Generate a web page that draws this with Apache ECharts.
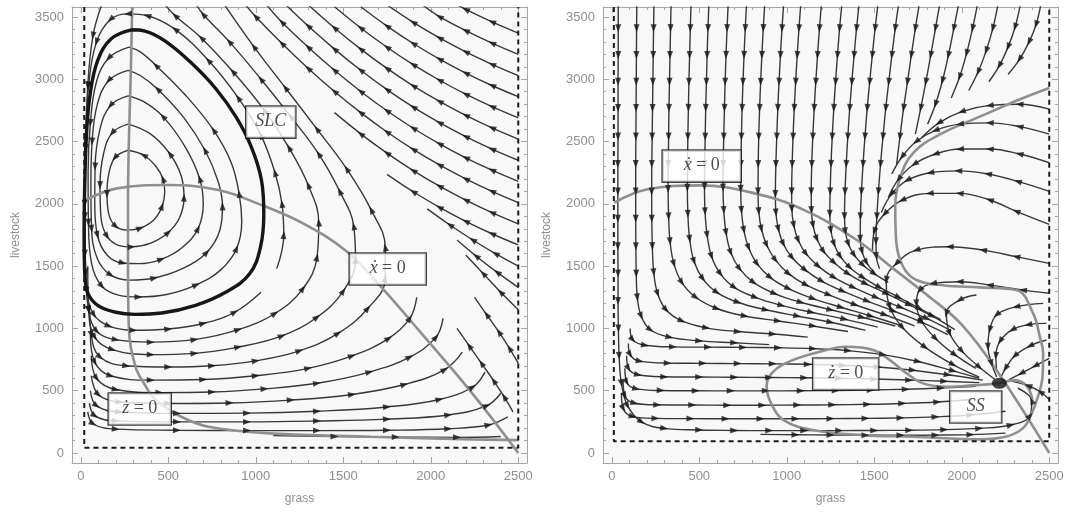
<!DOCTYPE html>
<html>
<head>
<meta charset="utf-8">
<script src="https://cdn.jsdelivr.net/npm/echarts@6/dist/echarts.min.js"></script>
<style>
  html, body { margin: 0; padding: 0; background: #fff; }
  #chart { width: 1068px; height: 512px; }
</style>
</head>
<body>
<div id="chart"></div>
<script>
// ---- left panel (limit cycle) ----
const leftBound = [[20, 3580], [20, 42], [2500, 42], [2500, 3580]];
const leftXNull = [[15,2020],[207,2124],[497,2151],[787,2111],[1019,1998],[1270,1843],[1522,1616],[1715,1335],[1947,960],[2237,479],[2500,0]];
const leftZNull = [[294,3580],[285,3000],[275,2500],[270,2000],[270,1500],[275,1000],[313,693],[361,559],[429,425],[574,291],[730,211],[1077,158],[1657,131],[2238,110],[2500,104]];
const leftSLC = [[290,3397],[174,3325],[97,3151],[54,2884],[33,2563],[23,2161],[19,1760],[23,1439],[42,1279],[97,1185],[193,1132],[309,1113],[463,1124],[656,1185],[830,1292],[965,1439],[1027,1653],[1046,1921],[1033,2188],[975,2456],[888,2696],[772,2924],[637,3124],[483,3306],[367,3387],[290,3397]];
const leftOrbits = [
  [[270,2430],[195,2370],[160,2240],[150,2080],[160,1920],[200,1820],[265,1790],[340,1805],[420,1875],[465,1980],[480,2100],[470,2200],[430,2300],[360,2390],[270,2430]],
  [[270,2640],[180,2570],[130,2400],[110,2150],[115,1900],[150,1740],[220,1665],[290,1655],[400,1685],[500,1770],[565,1890],[590,2050],[575,2220],[510,2400],[400,2560],[270,2640]],
  [[270,2867],[170,2790],[110,2600],[82,2300],[80,2000],[95,1750],[150,1590],[240,1525],[330,1520],[460,1555],[580,1650],[670,1800],[700,2000],[680,2200],[600,2450],[470,2700],[360,2820],[270,2867]],
  [[270,3071],[160,2990],[95,2800],[65,2500],[58,2150],[62,1800],[95,1560],[170,1430],[280,1388],[420,1405],[580,1480],[720,1610],[795,1790],[810,1980],[785,2180],[710,2430],[590,2690],[440,2920],[340,3030],[270,3071]],
  [[275,3258],[160,3170],[90,2980],[55,2650],[42,2250],[44,1850],[62,1520],[120,1340],[220,1265],[330,1252],[490,1272],[660,1350],[800,1470],[890,1640],[920,1860],[905,2080],[860,2330],[760,2590],[600,2870],[430,3110],[340,3220],[275,3258]]
];
const leftStreams = [
  [[1120,1480],[1160,1750],[1150,2000],[1110,2250],[1030,2550],[900,2850],[730,3150],[540,3400],[380,3510],[270,3525],[170,3480],[90,3300],[45,2950],[28,2500],[22,2000],[24,1600],[35,1300],[75,1110],[160,1020],[300,985],[500,995],[700,1040],[880,1130],[1030,1290]],
  [[120,3600],[70,3350],[40,2950],[28,2450],[24,1900],[28,1450],[45,1150],[90,980],[200,910],[400,890],[650,910],[900,990],[1110,1120],[1270,1320],[1350,1570],[1360,1850],[1300,2150],[1190,2450],[1050,2750],[870,3060],[690,3330],[540,3510],[480,3600]],
  [[40,1500],[45,1150],[80,930],[180,830],[400,790],[650,800],[900,850],[1150,940],[1350,1090],[1500,1300],[1570,1550],[1560,1820],[1480,2100],[1360,2400],[1200,2700],[1030,3000],[850,3300],[700,3520],[660,3600]],
  [[50,1200],[60,950],[110,770],[260,700],[500,690],[750,700],[1000,740],[1250,820],[1470,960],[1640,1160],[1740,1400],[1740,1650],[1660,1950],[1520,2280],[1350,2600],[1170,2930],[990,3260],[820,3600]],
  [[55,950],[80,730],[170,620],[400,585],[700,590],[1000,620],[1300,680],[1550,780],[1760,920],[1880,1080],[1920,1250]],
  [[60,780],[90,600],[200,510],[450,485],[750,490],[1050,515],[1350,560],[1650,650],[1880,770],[2030,930],[2070,1080]],
  [[60,620],[100,470],[220,410],[500,398],[850,402],[1200,425],[1550,470],[1850,550],[2080,670],[2180,810]],
  [[55,500],[90,380],[220,330],[550,318],[950,320],[1350,335],[1750,370],[2050,430],[2240,530],[2310,650]],
  [[50,400],[80,300],[200,258],[550,250],[950,250],[1350,257],[1750,272],[2100,305],[2320,380],[2400,480]],
  [[40,330],[70,235],[200,192],[550,183],[950,180],[1350,180],[1750,183],[2100,195],[2330,225],[2440,290]],
  [[1100,140],[1450,133],[1800,128],[2150,126],[2400,133]],
  [[2470,330],[2420,450],[2360,580],[2290,720],[2220,860],[2150,1000]],
  [[2500,720],[2450,840],[2390,970],[2320,1110],[2250,1250]],
  [[2500,3370],[2350,3460],[2200,3560],[2150,3600]],
  [[2500,3200],[2350,3290],[2200,3390],[2050,3502],[1950,3600]],
  [[2500,3030],[2350,3120],[2200,3220],[2050,3332],[1900,3457],[1750,3597]],
  [[2500,2860],[2350,2950],[2200,3050],[2050,3162],[1900,3287],[1750,3427],[1600,3582]],
  [[2500,2690],[2350,2780],[2200,2880],[2050,2992],[1900,3117],[1750,3257],[1600,3412],[1450,3582]],
  [[2500,2520],[2350,2610],[2200,2710],[2050,2822],[1900,2947],[1750,3087],[1600,3242],[1450,3412],[1300,3597]],
  [[2500,2350],[2350,2440],[2200,2540],[2050,2652],[1900,2777],[1750,2917],[1600,3072],[1450,3242],[1300,3427],[1170,3600]],
  [[2500,2180],[2350,2270],[2200,2370],[2050,2482],[1900,2607],[1750,2747],[1600,2902],[1450,3072],[1300,3257],[1150,3457],[1060,3600]],
  [[2500,2010],[2350,2100],[2200,2200],[2050,2312],[1900,2437],[1750,2577],[1600,2732],[1450,2902],[1300,3087],[1150,3287],[1000,3502],[940,3600]],
  [[2500,1840],[2350,1930],[2200,2030],[2050,2142],[1900,2267],[1750,2407],[1600,2562],[1450,2732]],
  [[2500,1670],[2350,1760],[2200,1860],[2050,1972],[1900,2097],[1750,2237]],
  [[2500,1500],[2370,1600],[2240,1710],[2110,1830],[1980,1960]],
  [[2500,1330],[2380,1450],[2260,1580],[2150,1710]],
  [[2500,1150],[2400,1290],[2300,1440],[2200,1590]]
];
const leftLabels = [['SLC', 1086, 2656, 33], ['xdot', 1754, 1477, 60], ['zdot', 337, 353, 46]];

// ---- right panel (steady state) ----
const rightBound = [[12, 3580], [12, 95], [2500, 95], [2500, 3580]];
const rightXNull = [[15,2010],[200,2115],[500,2148],[800,2090],[1100,1950],[1400,1710],[1600,1490],[1800,1270],[2000,1030],[2220,620],[2500,0]];
const rightZNull = [[2500,2930],[2316,2830],[2120,2710],[1884,2563],[1727,2415],[1649,2215],[1620,1974],[1625,1707],[1665,1495],[1741,1389],[1900,1345],[2100,1330],[2312,1308],[2408,1121],[2446,934],[2465,800],[2462,620],[2435,450],[2400,320],[2350,200],[2250,130],[2103,110],[1722,131],[1436,144],[1150,185],[985,262],[910,400],[885,540],[920,650],[1024,740],[1189,813],[1341,853],[1493,827],[1589,746],[1684,640],[1779,559],[1913,532],[2080,545],[2208,559],[2300,585],[2370,540],[2404,430]];
const rightSS = [2215, 560];
const rightStreams = [
  [[37,3600],[37,3410],[37,3195],[36,2980],[36,2770],[36,2540],[35,2320],[35,2100],[35,1880],[35,1660],[36,1440],[36,1220],[38,1000],[42,780],[55,560],[90,380],[170,250],[300,198],[500,185],[700,181],[900,180],[1100,180],[1300,180],[1500,181],[1700,183],[1900,188],[2100,198],[2280,225],[2390,300],[2400,420],[2320,520]],
  [[143,3600],[142,3410],[141,3195],[140,2980],[139,2770],[138,2540],[137,2320],[137,2100],[137,1880],[138,1660],[140,1440],[146,1250],[168,1100],[220,990],[330,930],[500,900],[700,885],[900,870]],
  [[241,3600],[239,3410],[237,3195],[235,2980],[233,2770],[231,2540],[229,2320],[228,2100],[229,1880],[232,1660],[240,1450],[262,1280],[310,1150],[400,1060],[540,1005],[720,975],[920,955],[1120,930]],
  [[339,3600],[336,3410],[333,3195],[330,2980],[327,2770],[325,2540],[323,2320],[322,2120],[325,1900],[333,1700],[355,1520],[400,1370],[480,1250],[600,1160],[760,1100],[950,1060],[1150,1020],[1350,975]],
  [[453,3600],[449,3410],[445,3195],[441,2980],[438,2770],[435,2540],[433,2320],[432,2130],[435,1920],[445,1720],[470,1540],[520,1400],[600,1290],[720,1210],[880,1150],[1060,1100],[1250,1050],[1450,985]],
  [[555,3600],[550,3410],[545,3195],[541,2980],[537,2770],[534,2540],[531,2320],[530,2140],[533,1940],[545,1750],[570,1580],[620,1440],[700,1330],[820,1250],[970,1185],[1140,1130],[1330,1075],[1520,1010]],
  [[665,3600],[659,3410],[653,3195],[648,2980],[644,2770],[640,2540],[637,2320],[636,2130],[640,1950],[653,1770],[680,1610],[730,1480],[810,1370],[930,1280],[1080,1210],[1250,1150],[1430,1090],[1620,1020]],
  [[770,3600],[763,3410],[756,3195],[750,2980],[745,2770],[741,2540],[738,2320],[737,2120],[741,1950],[755,1790],[782,1650],[830,1520],[905,1410],[1010,1320],[1150,1240],[1310,1170],[1480,1100],[1660,1020]],
  [[874,3600],[866,3410],[858,3195],[851,2980],[845,2770],[840,2540],[837,2320],[836,2100],[840,1940],[855,1800],[885,1670],[935,1550],[1010,1440],[1110,1350],[1240,1270],[1390,1190],[1560,1110],[1730,1020]],
  [[982,3600],[973,3410],[964,3195],[956,2980],[949,2770],[943,2540],[938,2320],[935,2080],[938,1930],[952,1800],[980,1680],[1030,1570],[1105,1470],[1200,1380],[1320,1300],[1460,1220],[1610,1140],[1770,1050],[1920,950]],
  [[1080,3600],[1070,3410],[1060,3195],[1051,2980],[1043,2770],[1036,2540],[1031,2320],[1028,2100],[1029,1960],[1040,1830],[1065,1710],[1110,1600],[1180,1500],[1270,1410],[1380,1330],[1510,1250],[1650,1170],[1800,1080],[1940,980]],
  [[1198,3600],[1187,3410],[1176,3195],[1166,2980],[1157,2770],[1149,2540],[1143,2320],[1140,2100],[1141,1950],[1150,1830],[1172,1720],[1210,1620],[1270,1530],[1350,1440],[1450,1360],[1570,1280],[1700,1190],[1830,1100],[1960,990]],
  [[1315,3600],[1302,3410],[1290,3195],[1279,2980],[1269,2770],[1260,2540],[1253,2320],[1248,2100],[1246,1920],[1252,1790],[1270,1680],[1305,1580],[1360,1490],[1435,1410],[1530,1330],[1640,1250],[1760,1160],[1880,1070]],
  [[1413,3600],[1399,3410],[1385,3195],[1372,2980],[1360,2770],[1349,2540],[1340,2320],[1333,2100],[1330,1900],[1335,1780],[1352,1680],[1385,1590],[1435,1510],[1500,1440],[1580,1370]],
  [[1521,3600],[1505,3410],[1489,3195],[1474,2980],[1460,2770],[1447,2540],[1436,2320],[1427,2100],[1421,1900],[1420,1720],[1430,1620],[1455,1530],[1500,1450]],
  [[1639,3600],[1620,3410],[1601,3195],[1583,2980],[1566,2770],[1550,2540],[1536,2320],[1524,2100],[1515,1900],[1510,1700],[1512,1580],[1530,1480]],
  [[1757,3600],[1735,3410],[1712,3195],[1690,2980],[1668,2770],[1647,2540],[1628,2320]],
  [[1874,3600],[1850,3410],[1823,3195],[1795,2980],[1766,2770],[1735,2560]],
  [[1982,3600],[1955,3410],[1924,3195],[1890,2990],[1850,2800],[1805,2640]],
  [[2090,3600],[2062,3410],[2028,3210],[1988,3020],[1940,2850]],
  [[2207,3600],[2178,3410],[2140,3230],[2094,3060],[2040,2910]],
  [[2335,3600],[2305,3420],[2265,3260],[2215,3110],[2155,2980]],
  [[2452,3600],[2425,3440],[2385,3300],[2330,3160],[2265,3040]],
  [[2500,2760],[2330,2800],[2160,2790],[2000,2740],[1870,2650],[1770,2530]],
  [[2500,2560],[2330,2620],[2160,2650],[1990,2640],[1850,2590],[1740,2500],[1660,2380],[1600,2240]],
  [[2500,2330],[2330,2400],[2160,2440],[1990,2440],[1850,2400],[1730,2320],[1640,2200],[1580,2050]],
  [[2500,2100],[2320,2180],[2150,2240],[1980,2265],[1820,2250],[1690,2190],[1600,2080],[1540,1930]],
  [[2500,1835],[2312,1940],[2160,2031],[1988,2084],[1817,2084],[1660,2030],[1560,1920],[1500,1780],[1490,1620]],
  [[2500,1522],[2312,1576],[2122,1629],[1931,1656],[1741,1629],[1627,1522],[1569,1389],[1588,1175],[1660,1010],[1790,850],[1950,710],[2100,610]],
  [[2500,1282],[2350,1308],[2160,1348],[1988,1375],[1836,1362],[1760,1308],[1741,1201],[1770,1060],[1850,920],[1960,790],[2080,680]],
  [[2465,1201],[2312,1174],[2200,1110],[2160,990],[2150,854],[2170,720],[2200,610]],
  [[2484,1041],[2380,1030],[2290,990],[2220,900],[2195,780],[2200,650]],
  [[2484,907],[2390,860],[2303,780],[2250,680],[2225,610]],
  [[2084,1268],[1988,1228],[1912,1121],[1931,961],[2000,820],[2100,690],[2190,590]],
  [[2500,760],[2420,700],[2340,640],[2270,590]],
  [[2500,430],[2450,490],[2380,540],[2290,575]],
  [[105,1000],[120,910],[190,865],[350,852],[550,850],[750,848],[950,845],[1150,838],[1350,822],[1550,790],[1750,735],[1950,660],[2100,600]],
  [[95,880],[105,790],[160,738],[320,722],[520,720],[720,718],[920,716],[1120,712],[1320,704],[1520,690],[1720,665],[1920,628],[2120,585]],
  [[85,780],[95,680],[150,628],[300,612],[500,610],[700,608],[900,606],[1100,604],[1300,600],[1500,594],[1700,586],[1900,576],[2100,565]],
  [[75,680],[85,570],[140,515],[280,502],[480,500],[680,499],[880,499],[1080,500],[1280,502],[1480,506],[1680,512],[1880,522],[2080,536]],
  [[65,580],[75,460],[130,400],[260,387],[460,385],[660,384],[860,384],[1060,385],[1260,387],[1460,391],[1660,398],[1860,410],[2060,430]],
  [[55,480],[65,360],[120,292],[250,278],[450,276],[650,275],[850,275],[1050,275],[1250,276],[1450,278],[1650,282],[1850,290],[2050,305],[2250,335]],
  [[850,150],[1050,147],[1250,145],[1450,143],[1650,143],[1850,144],[2050,148],[2250,160]]
];
const rightLabels = [['xdot', 514, 2303, 62], ['zdot', 1337, 634, 49], ['SS', 2080, 369, 35]];

const labelText = { SLC: '{i|SLC}', SS: '{i|SS}', xdot: '{i|ẋ} = 0', zdot: '{i|ż} = 0' };

const GRIDS = [
  { left: 72, top: 7, width: 455, height: 456 },
  { left: 603, top: 7, width: 455, height: 456 }
];
const AXIS_GRAY = '#a6a6a6';
const LABEL_GRAY = '#8e8e8e';
const STREAM = '#383838';
const NULL_GRAY = '#8f8f8f';

const chart = echarts.init(document.getElementById('chart'));

function tickFmt(v) { return v % 500 === 0 ? String(v) : ''; }

function xAxisFor(g, pos) {
  return {
    gridIndex: g, type: 'value', position: pos, min: -50, max: 2550, splitNumber: 5,
    axisLine: { show: true, onZero: false, lineStyle: { color: AXIS_GRAY, width: 1 } },
    axisTick: { show: true, inside: true, length: 6, lineStyle: { color: AXIS_GRAY } },
    minorTick: { show: true, splitNumber: 5, length: 3, lineStyle: { color: AXIS_GRAY } },
    axisLabel: { show: pos === 'bottom', formatter: tickFmt, color: LABEL_GRAY, fontSize: 13, margin: 7, fontFamily: 'Liberation Sans' },
    splitLine: { show: false },
    name: pos === 'bottom' ? 'grass' : '', nameLocation: 'middle', nameGap: 30,
    nameTextStyle: { color: LABEL_GRAY, fontSize: 12, fontFamily: 'Liberation Sans' }
  };
}
function yAxisFor(g, pos) {
  return {
    gridIndex: g, type: 'value', position: pos, min: -80, max: 3580, splitNumber: 7,
    axisLine: { show: true, onZero: false, lineStyle: { color: AXIS_GRAY, width: 1 } },
    axisTick: { show: true, inside: true, length: 6, lineStyle: { color: AXIS_GRAY } },
    minorTick: { show: true, splitNumber: 5, length: 3, lineStyle: { color: AXIS_GRAY } },
    axisLabel: { show: pos === 'left', formatter: tickFmt, color: LABEL_GRAY, fontSize: 13, margin: 8, fontFamily: 'Liberation Sans' },
    splitLine: { show: false },
    name: pos === 'left' ? 'livestock' : '', nameLocation: 'middle', nameGap: 50,
    nameTextStyle: { color: LABEL_GRAY, fontSize: 12, fontFamily: 'Liberation Sans' }
  };
}

function line(data, g, color, width, z, type) {
  return {
    type: 'line', xAxisIndex: 2 * g, yAxisIndex: 2 * g, data: data,
    symbol: 'none', smooth: 0.4, silent: true, z: z,
    lineStyle: { color: color, width: width, type: type || 'solid' }
  };
}

function labelSeries(list, g) {
  return {
    type: 'scatter', xAxisIndex: 2 * g, yAxisIndex: 2 * g, symbolSize: 0, silent: true, z: 20,
    data: list.map(l => ({
      value: [l[1], l[2]],
      label: {
        show: true, position: 'inside', formatter: labelText[l[0]],
        width: l[3], height: 19, align: 'center', verticalAlign: 'middle',
        padding: [6, 8], backgroundColor: '#fff', borderColor: '#111', borderWidth: 1.3,
        fontFamily: 'Liberation Serif', fontSize: 18, color: '#222',
        rich: { i: { fontStyle: 'italic', fontFamily: 'Liberation Serif', fontSize: 18, color: '#222' } }
      }
    }))
  };
}

const baseSeries = [];
leftOrbits.concat(leftStreams).forEach(s => baseSeries.push(line(s, 0, STREAM, 1.4, 3)));
baseSeries.push(line(leftSLC, 0, '#161616', 3.4, 6));
baseSeries.push(line(leftXNull, 0, NULL_GRAY, 2.6, 5));
baseSeries.push(line(leftZNull, 0, NULL_GRAY, 2.6, 5));
baseSeries.push(Object.assign(line(leftBound, 0, '#1a1a1a', 2, 7, [5, 4]), { smooth: false }));
rightStreams.forEach(s => baseSeries.push(line(s, 1, STREAM, 1.4, 3)));
baseSeries.push(line(rightXNull, 1, NULL_GRAY, 2.6, 5));
baseSeries.push(line(rightZNull, 1, NULL_GRAY, 2.6, 5));
baseSeries.push(Object.assign(line(rightBound, 1, '#1a1a1a', 2, 7, [5, 4]), { smooth: false }));
baseSeries.push({
  type: 'scatter', xAxisIndex: 2, yAxisIndex: 2, silent: true, z: 12,
  symbol: 'circle', symbolSize: [15, 11], itemStyle: { color: '#111' }, data: [rightSS]
});
baseSeries.push(labelSeries(leftLabels, 0));
baseSeries.push(labelSeries(rightLabels, 1));

chart.setOption({
  animation: false,
  backgroundColor: '#fff',
  grid: GRIDS.map(g => Object.assign({ show: true, backgroundColor: '#f8f8f8', borderWidth: 0 }, g)),
  xAxis: [xAxisFor(0, 'bottom'), xAxisFor(0, 'top'), xAxisFor(1, 'bottom'), xAxisFor(1, 'top')],
  yAxis: [yAxisFor(0, 'left'), yAxisFor(0, 'right'), yAxisFor(1, 'left'), yAxisFor(1, 'right')],
  series: baseSeries
});

// arrowheads at the read points of each streamline, turned along the line
function arrows(lines, g, stride) {
  const finder = { xAxisIndex: 2 * g, yAxisIndex: 2 * g };
  const data = [];
  lines.forEach(l => {
    const px = l.map(p => chart.convertToPixel(finder, p));
    for (let i = 1; i < l.length - 1; i += stride) {
      if (l[i][1] > 3580) continue;
      const dx = px[i + 1][0] - px[i - 1][0];
      const dy = px[i + 1][1] - px[i - 1][1];
      const rot = Math.atan2(-dy, dx) * 180 / Math.PI - 90;
      data.push({ value: l[i], symbolRotate: rot });
    }
  });
  return {
    type: 'scatter', xAxisIndex: 2 * g, yAxisIndex: 2 * g, silent: true, z: 8,
    symbol: 'triangle', symbolSize: [6, 8], itemStyle: { color: '#151515' }, data: data
  };
}

chart.setOption({
  series: baseSeries.concat([
    arrows(leftOrbits, 0, 2),
    arrows(leftStreams, 0, 1),
    arrows(rightStreams, 1, 1)
  ])
});
</script>
</body>
</html>
